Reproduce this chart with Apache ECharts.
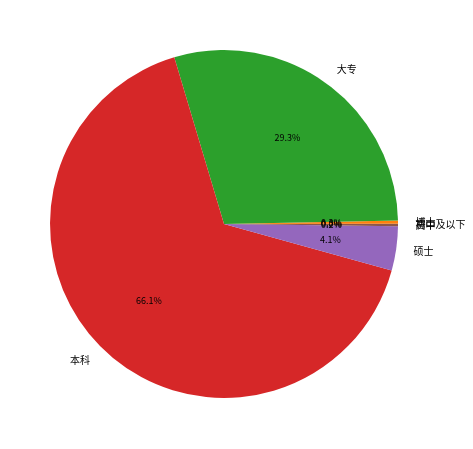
<!DOCTYPE html>
<html>
<head>
<meta charset="utf-8">
<script src="https://cdn.jsdelivr.net/npm/echarts@6/dist/echarts.min.js"></script>
<style>
  html, body { margin: 0; padding: 0; background: #fff; }
  #chart { width: 473px; height: 449px; }
</style>
</head>
<body>
<div id="chart"></div>
<script>
// 学历分布
const categories = ['初中及以下', '博士', '大专', '本科', '硕士', '高中']
const values = [0.02, 0.3, 29.3, 66.1, 4.1, 0.2]
const colors = ['#1f77b4', '#ff7f0e', '#2ca02c', '#d62728', '#9467bd', '#8c564b']

const R = 174
const total = values.reduce((a, b) => a + b, 0)
const pieData = categories.map((name, i) => ({ name: name, value: values[i] }))
const font = '"Noto Sans CJK SC", sans-serif'

const chart = echarts.init(document.getElementById('chart'))
const option = {
  animation: false,
  color: colors,
  series: [
    {
      // 外圈标签
      type: 'pie',
      z: 2,
      center: [224, 224],
      radius: [0, R],
      startAngle: 0,
      clockwise: false,
      avoidLabelOverlap: false,
      minShowLabelAngle: 0,
      labelLayout: { hideOverlap: false },
      itemStyle: { borderWidth: 0 },
      label: {
        show: true,
        position: 'outside',
        color: '#000',
        fontSize: 10,
        fontFamily: font,
        distanceToLabelLine: 0
      },
      labelLine: { show: false, length: R * 0.1, length2: 0 },
      emphasis: { disabled: true },
      data: pieData
    },
    {
      // 百分比标签 (透明)
      type: 'pie',
      z: 3,
      silent: true,
      center: [224, 224],
      radius: [0, R * 1.2],
      startAngle: 0,
      clockwise: false,
      avoidLabelOverlap: false,
      minShowLabelAngle: 0,
      labelLayout: { hideOverlap: false },
      itemStyle: { color: 'rgba(0,0,0,0)', borderWidth: 0 },
      label: {
        show: true,
        position: 'inside',
        color: '#000',
        fontSize: 9,
        fontFamily: font,
        formatter: p => (p.value / total * 100).toFixed(1) + '%'
      },
      labelLine: { show: false },
      emphasis: { disabled: true },
      data: pieData
    }
  ]
}
chart.setOption(option)
</script>
</body>
</html>
